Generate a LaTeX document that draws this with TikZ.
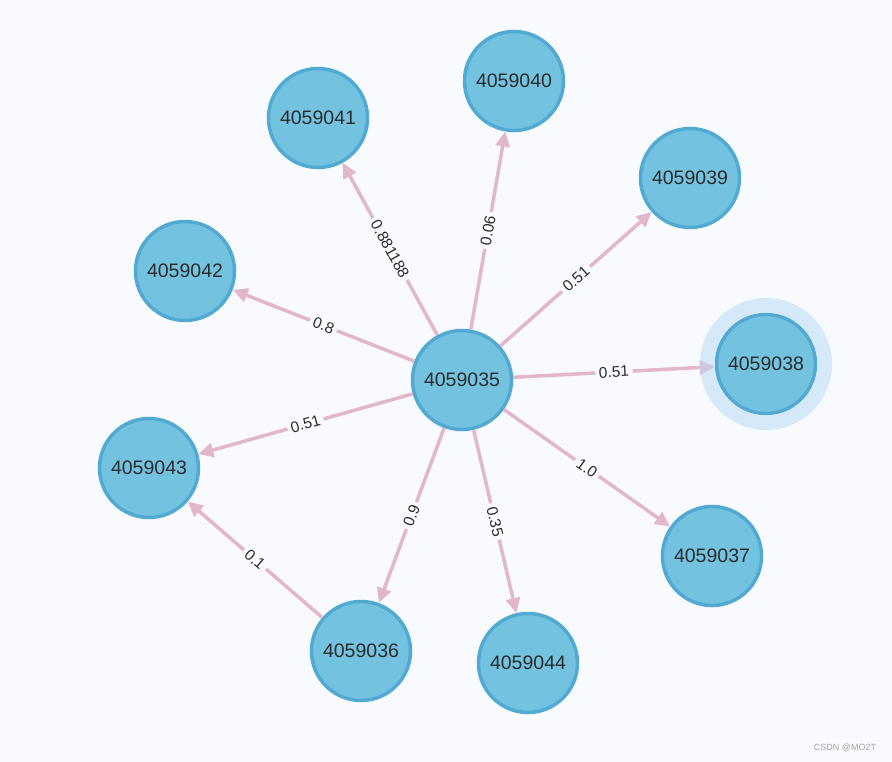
\documentclass[tikz,border=0pt]{standalone}
\usepackage{fontspec}
\setmainfont{Liberation Sans}
\usetikzlibrary{arrows.meta}
\definecolor{bg}{HTML}{F8FAFE}
\definecolor{nodefill}{HTML}{73C3E0}
\definecolor{nodeline}{HTML}{51AAD2}
\definecolor{edgepink}{HTML}{E2B7CB}
\definecolor{halo}{HTML}{B6DAF6}
\definecolor{txt}{HTML}{2B2B2B}
\begin{document}
\begin{tikzpicture}[x=1pt,y=-1pt,
  vert/.style={circle,draw=nodeline,fill=nodefill,line width=3.5pt,minimum size=99pt,inner sep=0pt,text=txt,font=\fontsize{19.5}{20}\selectfont},
  edge/.style={draw=edgepink,line width=3.5pt,-{Triangle[length=15pt,width=14pt]}},
  wt/.style={sloped,fill=bg,inner sep=3.5pt,text=txt,font=\fontsize{15.5}{16}\selectfont}]
\fill[bg] (0,0) rectangle (892,762);
\useasboundingbox (0,0) rectangle (892,762);
\node[vert] (n35) at (462,380) {4059035};
\node[vert] (n40) at (514,81) {4059040};\node[vert] (n41) at (318,118) {4059041};\node[vert] (n39) at (690,178) {4059039};
\node[vert] (n42) at (185,271) {4059042};\node[vert] (n38) at (766,364) {4059038};\node[vert] (n43) at (149,468) {4059043};
\node[vert] (n37) at (712,556) {4059037};\node[vert] (n36) at (361,651) {4059036};\node[vert] (n44) at (528,663) {4059044};
\draw[edge] (n35)-- node[wt] {0.881188} (n41);\draw[edge] (n35)-- node[wt] {0.06} (n40);\draw[edge] (n35)-- node[wt] {0.51} (n39);
\draw[edge] (n35)-- node[wt] {0.8} (n42);\draw[edge] (n35)-- node[wt] {0.51} (n38);\draw[edge] (n35)-- node[wt] {0.51} (n43);
\draw[edge] (n35)-- node[wt] {1.0} (n37);\draw[edge] (n35)-- node[wt] {0.9} (n36);\draw[edge] (n35)-- node[wt] {0.35} (n44);
\draw[edge] (n36)-- node[wt] {0.1} (n43);
% selection ring
\fill[halo,fill opacity=0.5,even odd rule] (n38.center) circle (66) (n38.center) circle (51.5);
\node[text=black!35,font=\fontsize{9}{10}\selectfont] (mark) at (845,748) {CSDN @MO2T};
\end{tikzpicture}
\end{document}
